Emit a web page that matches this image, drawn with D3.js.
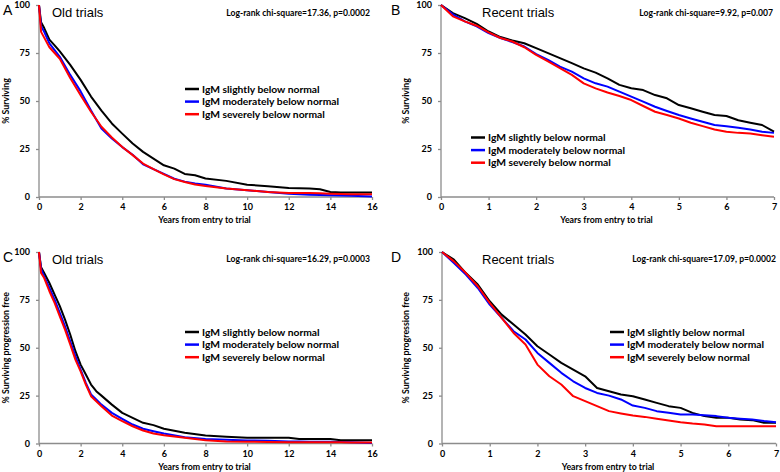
<!DOCTYPE html>
<html><head><meta charset="utf-8">
<script src="https://cdn.jsdelivr.net/npm/d3@7/dist/d3.min.js"></script>
<style>body{margin:0;background:#fff;} svg{display:block;}</style>
</head><body>
<svg id="chart" width="780" height="472"></svg>
<script>
// ---- data ----
const seriesNames = ["IgM slightly below normal", "IgM moderately below normal", "IgM severely below normal"];
const seriesColors = ["#000000", "#0000ff", "#ff0000"];

const xTicksOld = [0, 2, 4, 6, 8, 10, 12, 14, 16];
const xTicksRecent = [0, 1, 2, 3, 4, 5, 6, 7];
const yTicks = [0, 25, 50, 75, 100];

const timesA = [0, 0.1, 0.25, 0.5, 0.75, 1, 1.5, 2, 2.5, 3, 3.5, 4, 4.5, 5, 5.5, 6, 6.5, 7, 7.5, 8, 9, 10, 11, 12, 13, 13.5, 14, 14.5, 15, 16];
const slightA =   [100, 91, 88, 82, 79, 75.8, 68.8, 61, 52.3, 45, 38.3, 33, 27.9, 23.5, 20, 16.5, 14.8, 12, 11.3, 9.6, 8.4, 6.4, 5.6, 4.7, 4.4, 4, 2.6, 2.3, 2.3, 2.3];
const moderateA = [100, 89, 86, 80, 76.5, 73, 63.6, 55, 45, 35.7, 30.5, 26, 22, 17, 14.5, 12, 9.5, 8, 7, 6.4, 4.4, 3.5, 2.6, 1.7, 1.2, 1.1, 0.9, 0.8, 0.7, 0.2];
const severeA =   [100, 86, 83, 78, 75, 72, 62, 53, 44.4, 36.6, 31, 26, 21.8, 17.4, 14.5, 11.8, 9.3, 7.8, 6.5, 5.7, 4.4, 3.5, 2.6, 2.1, 2.1, 2, 1.7, 1.5, 1.4, 1.4];

const timesB = [0, 0.25, 0.5, 0.75, 1, 1.25, 1.5, 1.75, 2, 2.25, 2.5, 2.75, 3, 3.25, 3.5, 3.75, 4, 4.25, 4.5, 4.75, 5, 5.25, 5.5, 5.75, 6, 6.25, 6.5, 6.75, 7];
const slightB =   [100, 95.8, 93.2, 90.2, 86.2, 83.3, 81.5, 80.1, 77.5, 74.9, 72.3, 69.7, 67, 64.8, 61.8, 58.4, 56.6, 55.7, 53.1, 51.4, 47.9, 46.2, 44.4, 42.7, 42.2, 40, 38.7, 37.5, 34];
const moderateB = [100, 95.1, 91.5, 88.9, 85.4, 82.8, 80.7, 78.4, 74.4, 71.4, 67.9, 65.3, 61.8, 59.2, 57.5, 54.9, 52.3, 49.7, 47, 44.8, 42.7, 40.9, 39.2, 37.5, 36.9, 36.1, 35.2, 34, 33.4];
const severeB =   [100, 94.1, 91.5, 89.2, 85.7, 82.8, 81, 78, 74, 70.6, 67.1, 63.6, 59.2, 56.6, 54.4, 52.6, 50.5, 47.4, 44.4, 42.7, 40.9, 38.7, 36.9, 35.2, 34, 33.4, 33.1, 32.2, 31.4];

const timesC = [0, 0.1, 0.25, 0.5, 0.75, 1, 1.25, 1.5, 1.75, 2, 2.25, 2.5, 2.75, 3, 3.5, 4, 4.5, 5, 5.5, 6, 7, 8, 9, 10, 11, 12, 12.5, 13, 14, 14.5, 15, 16];
const slightC =   [100, 92, 89, 83.8, 77.7, 71.7, 64.7, 56.9, 48.2, 41.2, 36, 30.8, 27.3, 25, 20.3, 16, 13.4, 10.8, 9.6, 7.7, 5.6, 4.2, 3.5, 3, 3, 3, 2.4, 2.3, 2.3, 1.7, 1.7, 1.7];
const moderateC = [100, 91, 87.3, 81.2, 75.1, 68.2, 61.2, 53.4, 45.6, 38.6, 31.7, 25.6, 23, 20.3, 16, 12.9, 9.9, 7.7, 6.4, 5.2, 3.3, 2.4, 1.9, 1.6, 1.4, 1, 1, 0.9, 0.9, 0.8, 0.7, 0.3];
const severeC =   [100, 89, 86.4, 79.5, 73.4, 66.4, 59.5, 51.7, 43.8, 37.7, 30.8, 24.7, 22.1, 19.5, 14.6, 11.7, 9, 6.8, 5.2, 4.3, 3, 1.7, 1, 0.9, 0.8, 0.7, 0.7, 0.7, 0.7, 0.6, 0.5, 0.5];

const timesD = [0, 0.25, 0.5, 0.75, 1, 1.25, 1.5, 1.75, 2, 2.25, 2.5, 2.75, 3, 3.25, 3.5, 3.75, 4, 4.25, 4.5, 4.75, 5, 5.25, 5.5, 5.75, 6, 6.25, 6.5, 6.75, 7];
const slightD =   [100, 96, 89, 83, 74.3, 67.3, 62.1, 56.9, 50.8, 46.5, 42.1, 38.6, 35.1, 29, 27.3, 25.6, 24.7, 23, 21.2, 19.5, 18.6, 16, 14.3, 13.4, 13.4, 12.5, 12.2, 10.8, 10.8];
const moderateD = [100, 94.3, 88.2, 81.2, 72.5, 65.6, 58.6, 54.3, 47.3, 42.1, 36.9, 32.5, 29, 26.4, 25, 23, 19.8, 18.6, 16.9, 16, 15.1, 15.1, 14.8, 14.3, 13.4, 12.9, 12.5, 11.7, 11.1];
const severeD =   [100, 95.1, 89, 82.1, 73.4, 65.6, 57.7, 51.7, 41.2, 35.1, 30.8, 24.7, 22.1, 19.5, 16.9, 15.7, 14.6, 13.9, 12.9, 12, 11.1, 10.4, 9.9, 9, 9, 9, 9, 9, 9];

const panelLetters = ["A", "B", "C", "D"];
const panelTitles = ["Old trials", "Recent trials", "Old trials", "Recent trials"];
const statTexts = ["Log-rank chi-square=17.36, p=0.0002", "Log-rank chi-square=9.92, p=0.007",
                   "Log-rank chi-square=16.29, p=0.0003", "Log-rank chi-square=17.09, p=0.0002"];
const yTitles = ["% Surviving", "% Surviving", "% Surviving progression free", "% Surviving progression free"];
const xTitle = "Years from entry to trial";

// ---- drawing ----
const svg = d3.select("#chart");
const tickFont = "Lato, 'Open Sans', sans-serif";

const panels = [
  {times: timesA, vals: [slightA, moderateA, severeA], xMax: 16, xt: xTicksOld,
   box: {x0: 39, x1: 372, y0: 5, y1: 197}, letter: [3, 15], title: [52, 17], stat: [370, 16],
   legend: [185, 89], yTitleX: 9},
  {times: timesB, vals: [slightB, moderateB, severeB], xMax: 7, xt: xTicksRecent,
   box: {x0: 441, x1: 774, y0: 5, y1: 197}, letter: [391, 15], title: [482, 17], stat: [773, 16],
   legend: [471, 137.5], yTitleX: 409},
  {times: timesC, vals: [slightC, moderateC, severeC], xMax: 16, xt: xTicksOld,
   box: {x0: 39, x1: 372, y0: 252, y1: 443.5}, letter: [3, 262], title: [52, 264], stat: [370, 262],
   legend: [185, 332], yTitleX: 9},
  {times: timesD, vals: [slightD, moderateD, severeD], xMax: 7, xt: xTicksRecent,
   box: {x0: 442, x1: 776, y0: 252, y1: 443.5}, letter: [391, 262], title: [482, 264], stat: [776, 262],
   legend: [610, 332], yTitleX: 409}
];

panels.forEach((p, i) => {
  const g = svg.append("g");
  const x = d3.scaleLinear().domain([0, p.xMax]).range([p.box.x0, p.box.x1]);
  const y = d3.scaleLinear().domain([0, 100]).range([p.box.y1, p.box.y0]);

  // axes
  const xAxis = d3.axisBottom(x).tickValues(p.xt).tickSize(3).tickPadding(4).tickFormat(d3.format("d"));
  const yAxis = d3.axisLeft(y).tickValues(yTicks).tickSize(3).tickPadding(6).tickFormat(d3.format("d"));
  const gx = g.append("g").attr("transform", `translate(0,${p.box.y1})`).call(xAxis);
  const gy = g.append("g").attr("transform", `translate(${p.box.x0},0)`).call(yAxis);
  [gx, gy].forEach(a => {
    a.selectAll("line").attr("stroke", "#8c8c8c").attr("stroke-width", 1.3);
    a.selectAll("text").attr("font-family", tickFont).attr("font-weight", "bold")
      .attr("font-size", 9).attr("fill", "#000");
    a.select(".domain").remove();
  });
  g.append("line").attr("x1", p.box.x0).attr("x2", p.box.x1).attr("y1", p.box.y1).attr("y2", p.box.y1)
    .attr("stroke", "#8c8c8c").attr("stroke-width", 1.3);
  g.append("line").attr("x1", p.box.x0).attr("x2", p.box.x0).attr("y1", p.box.y0).attr("y2", p.box.y1)
    .attr("stroke", "#8c8c8c").attr("stroke-width", 1.3);

  // axis titles
  g.append("text").attr("x", (p.box.x0 + p.box.x1) / 2 - 1).attr("y", p.box.y1 + 26)
    .attr("text-anchor", "middle").attr("font-family", tickFont).attr("font-weight", "bold")
    .attr("font-size", 8.8).text(xTitle);
  g.append("text").attr("transform", `translate(${p.yTitleX},${(p.box.y0 + p.box.y1) / 2}) rotate(-90)`)
    .attr("text-anchor", "middle").attr("font-family", tickFont).attr("font-weight", "bold")
    .attr("font-size", 8.8).text(yTitles[i]);

  // survival curves
  const line = d3.line().x(d => x(d[0])).y(d => y(d[1])).curve(d3.curveLinear);
  [0, 1, 2].forEach(k => {
    const pts = p.times.map((t, j) => [t, p.vals[k][j]]);
    g.append("path").datum(pts).attr("d", line).attr("fill", "none")
      .attr("stroke", seriesColors[k]).attr("stroke-width", 2).attr("stroke-linejoin", "round");
  });

  // panel letter, title, statistic
  g.append("text").attr("x", p.letter[0]).attr("y", p.letter[1]).attr("font-family", "'Liberation Sans', Arial, sans-serif")
    .attr("font-size", 14).text(panelLetters[i]);
  g.append("text").attr("x", p.title[0]).attr("y", p.title[1]).attr("font-family", "'Liberation Sans', Arial, sans-serif")
    .attr("font-size", 13).text(panelTitles[i]);
  g.append("text").attr("x", p.stat[0]).attr("y", p.stat[1]).attr("text-anchor", "end")
    .attr("font-family", tickFont).attr("font-weight", "bold").attr("font-size", 8.6).text(statTexts[i]);

  // legend
  const rowGap = 12.6;
  seriesNames.forEach((name, k) => {
    const ly = p.legend[1] + k * rowGap;
    g.append("line").attr("x1", p.legend[0]).attr("x2", p.legend[0] + 14).attr("y1", ly).attr("y2", ly)
      .attr("stroke", seriesColors[k]).attr("stroke-width", 2.5);
    g.append("text").attr("x", p.legend[0] + 17).attr("y", ly + 3.6).attr("font-family", tickFont)
      .attr("font-weight", "bold").attr("font-size", 10.3).text(name);
  });
});
</script>
</body></html>
